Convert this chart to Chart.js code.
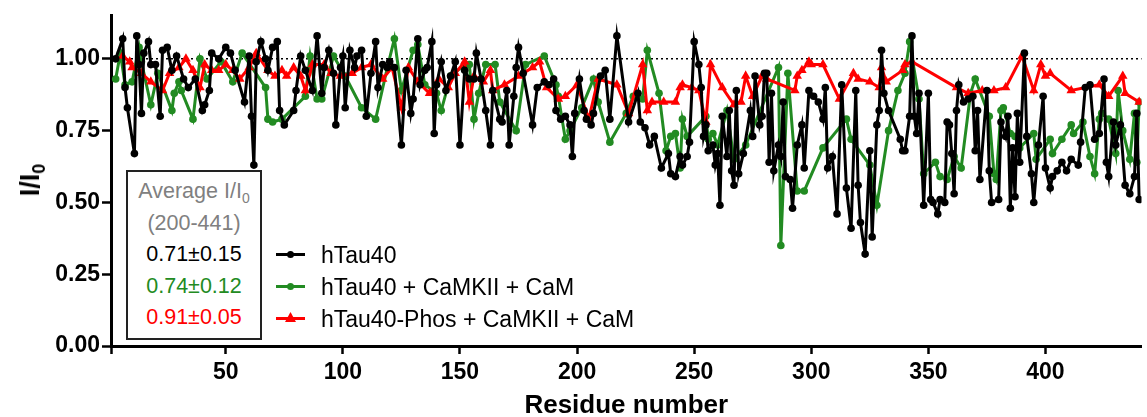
<!DOCTYPE html>
<html>
<head>
<meta charset="utf-8">
<script src="https://cdn.jsdelivr.net/npm/chart.js@4.4.1/dist/chart.umd.min.js"></script>
<style>
  body { margin: 0; background: #fff; }
  #wrap { position: relative; width: 1147px; height: 417px; font-family: Arial, "Liberation Sans", sans-serif; }
  sub { line-height: 0; }
  #ylab { position: absolute; left: 30px; top: 180px; transform: translate(-50%, -50%) rotate(-90deg);
          font-weight: bold; font-size: 27px; white-space: nowrap; line-height: 30px; }
  #ylab sub { font-size: 18px; }
  #avgbox { position: absolute; left: 126px; top: 170px; width: 136px; height: 170px; border: 2px solid #222;
            background: #fff; text-align: center; font-size: 21.5px; line-height: 31.5px; padding-top: 4px; box-sizing: border-box; }
  #avgbox sub { font-size: 14px; }
  #legend { position: absolute; left: 276px; top: 239px; font-size: 23px; }
  .item { position: relative; height: 32px; line-height: 32px; padding-left: 45px; white-space: nowrap; }
  .item .ln { position: absolute; left: 0; top: 14px; width: 29px; height: 3px; }
  .item .dot { position: absolute; left: 11px; top: 12px; width: 7px; height: 7px; border-radius: 50%; }
  .item .tri { position: absolute; left: 9px; top: 9px; width: 11px; height: 10px; clip-path: polygon(50% 0, 100% 100%, 0 100%); }
</style>
</head>
<body>
<div id="wrap">
  <canvas id="tauChart" width="1147" height="417"></canvas>
  <div id="ylab">I/I<sub>0</sub></div>
  <div id="avgbox">
    <div style="color:#808080">Average I/I<sub>0</sub></div>
    <div style="color:#808080">(200-441)</div>
    <div style="color:#000">0.71±0.15</div>
    <div style="color:#228b22">0.74±0.12</div>
    <div style="color:#ff0000">0.91±0.05</div>
  </div>
  <div id="legend">
    <div class="item"><span class="ln" style="background:#000"></span><span class="dot" style="background:#000"></span>hTau40</div>
    <div class="item"><span class="ln" style="background:#228b22"></span><span class="dot" style="background:#228b22"></span>hTau40 + CaMKII + CaM</div>
    <div class="item"><span class="ln" style="background:#ff0000"></span><span class="tri" style="background:#ff0000"></span>hTau40-Phos + CaMKII + CaM</div>
  </div>
</div>
<script>
// residue numbers and I/I0 values
var tauRes = [3,6,7,8,11,12,13,14,15,17,18,20,22,23,25,27,29,32,34,37,40,41,43,44,47,50,52,54,58,60,61,62,63,65,67,68,70,72,73,75,
  79,80,82,84,87,89,91,92,94,96,97,99,100,101,103,105,106,108,110,112,114,115,117,119,120,122,125,127,129,130,132,133,135,136,138,139,140,
  142,144,146,148,150,152,154,156,157,159,161,163,164,167,168,170,171,173,174,175,177,181,183,186,188,190,191,193,195,197,198,199,
  201,203,204,206,207,210,212,214,217,222,226,227,229,231,233,236,239,240,242,244,245,247,248,250,252,253,254,255,256,258,259,260,
  261,262,264,265,266,267,268,269,271,274,275,276,278,279,280,281,282,283,284,286,287,288,289,291,292,294,296,297,299,301,303,305,
  306,307,309,311,313,315,317,319,320,321,323,325,326,328,329,330,331,333,338,339,340,342,343,344,345,346,348,350,351,352,354,355,
  357,358,359,360,361,362,363,365,367,369,370,371,372,375,376,377,380,381,383,384,385,386,387,388,389,391,392,394,395,397,399,400,
  402,403,405,407,409,411,414,415,417,419,421,423,425,426,427,429,430,432,434,436,438,439,440];
var tauVal = [1.00,1.07,0.90,0.83,0.67,1.08,0.98,0.81,1.02,1.06,0.98,0.98,0.80,1.03,1.04,0.96,1.01,0.93,0.90,0.93,0.82,0.84,0.89,1.02,1.00,1.04,1.02,0.96,0.85,1.01,0.80,0.63,0.99,1.06,1.00,0.96,1.04,1.06,0.82,0.77,
  0.82,0.89,1.01,0.96,0.89,1.08,0.88,0.97,1.03,0.95,0.77,0.97,1.01,0.83,1.03,0.97,1.01,1.03,0.80,0.95,1.06,0.90,0.98,0.97,0.99,0.97,0.70,0.96,0.81,0.86,1.07,0.91,0.96,0.97,1.06,0.74,0.91,
  0.99,0.89,0.94,0.99,0.70,0.96,0.93,0.93,1.02,0.93,0.82,0.70,0.89,0.79,0.78,0.89,0.70,0.87,0.97,1.04,0.95,0.77,0.90,0.92,0.91,0.93,0.82,0.79,0.80,0.77,0.66,0.81,
  0.93,0.82,0.79,0.77,0.81,0.94,0.96,0.79,1.08,0.78,0.88,0.78,0.76,0.70,0.73,0.62,0.67,0.60,0.59,0.66,0.63,0.66,0.71,1.06,0.98,0.90,0.73,0.77,0.68,0.70,0.63,0.67,
  0.49,0.80,0.66,0.82,0.61,0.56,0.89,0.60,0.67,0.82,0.73,0.94,0.77,0.80,0.95,0.95,0.64,0.88,0.61,0.70,0.66,0.85,0.59,0.58,0.48,0.70,0.77,0.62,0.89,0.87,0.85,0.79,
  0.90,0.62,0.66,0.46,0.91,0.55,0.41,0.89,0.56,0.43,0.32,0.68,0.38,0.77,0.82,1.03,0.88,0.82,0.72,0.68,0.68,0.80,1.08,0.80,0.74,0.88,0.49,0.88,0.51,0.50,0.46,0.51,
  0.50,0.78,0.77,0.67,0.53,0.82,0.91,0.85,0.86,0.87,0.68,0.82,0.58,0.89,0.61,0.50,0.51,0.78,0.73,0.80,0.48,0.69,0.52,0.81,0.64,1.02,0.73,0.60,0.50,0.70,0.87,0.62,
  0.55,0.59,0.61,0.64,0.61,0.65,0.63,0.71,0.90,0.91,0.72,0.74,0.93,0.64,0.59,0.78,0.70,0.77,0.56,0.53,0.59,0.81,0.51];

var camRes = [3,5,7,10,13,14,18,21,27,28,30,31,36,39,42,48,53,57,67,68,70,74,84,86,89,91,96,101,108,114,119,122,125,130,132,135,140,142,146,
  152,154,156,158,161,165,167,174,178,186,191,192,195,197,202,207,209,214,221,224,228,230,235,238,240,242,244,245,247,255,256,258,260,264,267,272,
  286,287,290,294,297,305,315,317,325,328,333,337,340,342,346,348,353,355,358,361,364,368,370,376,378,379,381,382,385,387,389,395,396,
  402,403,407,411,412,416,419,421,423,424,427,430,431,433,436,438,439,440];
var camVal = [0.93,1.02,0.91,0.92,1.04,0.99,0.84,0.95,0.82,0.88,0.92,0.89,0.79,1.00,0.93,0.99,0.92,1.02,0.90,0.79,0.78,0.79,0.87,1.01,0.86,0.86,1.01,0.94,0.83,0.79,0.97,1.07,0.89,1.03,1.05,0.91,0.88,0.82,0.94,
  0.98,0.98,0.79,0.88,0.98,0.98,0.85,0.75,0.98,1.01,0.91,0.87,0.72,0.75,0.83,0.93,0.85,0.71,0.81,0.87,0.86,1.03,0.88,0.68,0.73,0.74,0.62,0.79,0.73,0.80,0.72,0.74,0.70,0.82,0.65,0.70,
  0.97,0.35,0.95,0.54,0.54,0.69,0.79,0.72,0.63,0.49,0.75,0.89,0.95,1.06,0.86,0.60,0.64,0.59,0.58,0.66,0.62,0.88,0.93,0.80,0.60,0.58,0.82,0.83,0.74,0.73,0.69,0.74,0.65,
  0.72,0.67,0.72,0.77,0.74,0.78,0.66,0.60,0.79,0.81,0.79,0.67,0.89,0.75,0.65,0.81,0.64,0.85];

var phosRes = [6,9,10,14,18,23,26,30,33,36,39,41,44,47,50,53,56,60,63,68,71,74,76,79,82,84,87,92,95,99,104,108,112,117,121,125,128,132,137,141,
  145,148,152,154,156,160,163,164,169,175,181,184,187,192,195,200,205,209,217,222,228,230,232,237,242,244,245,249,252,255,257,262,267,270,272,275,
  279,281,293,294,296,299,300,305,312,318,320,325,329,330,332,339,340,343,362,367,373,378,383,390,395,398,400,402,411,423,427,433,434,440];
var phosVal = [1.01,0.99,0.97,0.95,0.92,0.89,0.95,0.97,1.00,0.96,0.90,0.98,0.96,0.96,0.98,0.96,0.93,0.97,1.02,0.96,0.94,0.96,0.94,0.97,0.94,0.89,0.98,0.98,0.95,0.94,0.95,0.97,0.98,0.93,0.97,0.83,0.97,0.92,0.88,0.93,
  0.90,0.95,0.99,0.85,0.94,0.92,0.96,0.89,0.91,0.94,0.97,0.99,0.90,0.86,0.87,0.91,0.79,0.93,0.91,0.81,0.98,0.82,0.85,0.85,0.85,0.90,0.91,0.90,0.89,0.78,0.98,0.90,0.84,0.85,0.94,0.87,
  0.94,0.93,0.89,0.94,0.96,0.99,0.98,0.98,0.86,0.95,0.93,0.92,0.90,0.97,0.92,0.96,0.98,0.99,0.90,0.88,0.89,0.89,0.90,1.01,0.89,0.98,0.94,0.95,0.89,0.91,0.87,0.94,0.88,0.85];

var xTicks = [1,50,100,150,200,250,300,350,400];
var yTicks = [0,0.25,0.5,0.75,1.0];

function pairs(xs, ys) {
    return xs.map(function(x, i) { return { x: x, y: ys[i] }; });
}

// dotted reference line at I/I0 = 1
var refLine = {
    id: 'refLine',
    beforeDatasetsDraw: function(chart) {
        var ctx = chart.ctx, area = chart.chartArea;
        var y = chart.scales.y.getPixelForValue(1);
        ctx.save();
        ctx.strokeStyle = '#000';
        ctx.lineWidth = 1.5;
        ctx.setLineDash([2, 3]);
        ctx.beginPath();
        ctx.moveTo(area.left, y);
        ctx.lineTo(area.right, y);
        ctx.stroke();
        ctx.restore();
    }
};

var ctx = document.getElementById('tauChart').getContext('2d');
var tauChart = new Chart(ctx, {
    type: 'scatter',
    data: {
        datasets: [{
            label: 'hTau40',
            data: pairs(tauRes, tauVal),
            showLine: true,
            borderColor: '#000',
            backgroundColor: '#000',
            borderWidth: 3,
            pointRadius: 3.8,
            pointBorderWidth: 0,
            order: 1
        }, {
            label: 'hTau40 + CaMKII + CaM',
            data: pairs(camRes, camVal),
            showLine: true,
            borderColor: '#228b22',
            backgroundColor: '#228b22',
            borderWidth: 3,
            pointRadius: 3.8,
            pointBorderWidth: 0,
            order: 3
        }, {
            label: 'hTau40-Phos + CaMKII + CaM',
            data: pairs(phosRes, phosVal),
            showLine: true,
            borderColor: '#ff0000',
            backgroundColor: '#ff0000',
            borderWidth: 3,
            pointStyle: 'triangle',
            pointRadius: 5.5,
            pointBorderWidth: 0,
            order: 2
        }]
    },
    options: {
        responsive: false,
        animation: false,
        devicePixelRatio: 1,
        layout: { padding: { top: 12, right: 0, left: 0, bottom: 0 } },
        plugins: { legend: { display: false }, tooltip: { enabled: false } },
        scales: {
            x: {
                type: 'linear',
                min: 1,
                max: 441,
                afterBuildTicks: function(scale) {
                    scale.ticks = xTicks.map(function(v) { return { value: v }; });
                },
                afterFit: function(scale) { scale.height = 71; },
                ticks: {
                    color: '#000',
                    font: { family: 'Arial, "Liberation Sans"', size: 23, weight: 'bold' },
                    padding: 5,
                    maxRotation: 0,
                    callback: function(v) { return v === 1 ? '' : v; }
                },
                grid: { drawOnChartArea: false, color: '#000', tickLength: 8, tickWidth: 2.5 },
                border: { color: '#000', width: 3 },
                title: {
                    display: true,
                    text: 'Residue number',
                    color: '#000',
                    font: { family: 'Arial, "Liberation Sans"', size: 26, weight: 'bold', lineHeight: 0.85 },
                    padding: { top: 0, bottom: 0 }
                }
            },
            y: {
                min: 0,
                max: 1.15,
                afterBuildTicks: function(scale) {
                    scale.ticks = yTicks.map(function(v) { return { value: v }; });
                },
                afterFit: function(scale) { scale.width = 111; },
                ticks: {
                    color: '#000',
                    font: { family: 'Arial, "Liberation Sans"', size: 23, weight: 'bold' },
                    padding: 2,
                    callback: function(v) { return v.toFixed(2); }
                },
                grid: { drawOnChartArea: false, color: '#000', tickLength: 9, tickWidth: 2.5 },
                border: { color: '#000', width: 3 }
            }
        }
    },
    plugins: [refLine]
});
</script>
</body>
</html>
